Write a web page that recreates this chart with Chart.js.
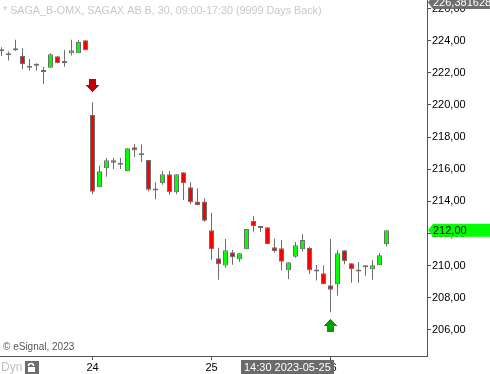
<!DOCTYPE html>
<html><head><meta charset="utf-8">
<script src="https://cdn.jsdelivr.net/npm/chart.js@4/dist/chart.umd.min.js"></script>
<style>html,body{margin:0;padding:0;background:#fff;overflow:hidden}#wrap{width:490px;height:374px;position:relative}canvas{display:block}</style>
</head><body><div id="wrap"><canvas id="c" width="490" height="374"></canvas></div>
<script>
// ---- DATA (30-minute bars, SAGA_B-OMX) ----
const opens  = [223.34,223.09,223.40,223.05,222.32,222.44,222.05,222.32,223.03,222.61,223.22,223.22,224.02,
  219.38,214.88,216.06,216.56,216.28,215.87,217.37,216.99,216.58,214.67,215.13,215.69,214.57,215.81,214.88,214.00,214.00,
  212.20,210.46,210.01,210.83,210.40,211.02,212.78,212.34,212.39,211.14,211.08,209.71,210.56,211.02,211.10,209.63,209.53,
  208.78,208.84,210.96,210.15,209.63,210.02,209.78,210.02,211.33];
const highs  = [223.59,223.32,224.06,223.53,222.86,222.59,222.36,223.22,223.03,223.42,224.06,224.04,224.02,
  220.17,216.22,216.72,216.72,216.72,217.30,217.55,217.55,216.58,215.19,215.89,215.89,215.69,215.81,215.19,214.82,214.19,
  213.30,211.12,211.66,210.98,210.77,212.28,213.09,212.39,212.39,211.68,211.60,210.21,211.47,211.97,211.16,210.04,210.02,
  211.66,210.98,210.96,210.15,210.23,210.02,210.33,210.79,212.20];
const lows   = [223.05,222.76,223.36,222.22,222.13,222.13,221.31,222.32,222.59,222.38,223.07,223.22,223.40,
  214.44,214.88,215.54,216.02,216.02,215.87,216.74,216.43,214.63,214.13,215.04,214.40,214.44,214.09,213.82,213.76,212.74,
  210.37,209.13,209.88,210.06,210.25,211.02,212.11,212.11,211.35,210.81,209.71,209.17,210.50,210.89,209.46,209.07,208.84,
  207.10,208.13,210.09,208.94,208.94,209.38,209.12,210.02,211.20];
const closes = [223.34,223.22,223.40,222.53,222.32,222.44,222.05,223.15,222.59,222.61,223.40,223.92,223.40,
  214.60,215.87,216.56,216.41,216.28,217.30,217.18,216.87,214.73,214.67,215.69,214.57,215.69,215.13,213.94,213.76,212.80,
  211.02,210.09,210.96,210.52,210.77,212.28,212.45,212.34,211.35,210.89,210.25,210.21,211.27,211.60,209.71,209.63,208.84,
  208.50,210.77,210.27,209.78,209.63,209.90,210.02,210.65,212.20];
const dayLabels = ['24','25','26'];
const dayStartBar = [13,30,47];
const yTickValues = [206,208,210,212,214,216,218,220,222,224,226];
const sellSignals = [{bar:13, price:221.21}];
const buySignals  = [{bar:47, price:206.28}];
const lastPriceMarker = {price:212.20, label:'212,00'};
const topPriceMarker  = {price:226.381628, label:'226,381628'};
const crosshair = {bar:47, label:'14:30 2023-05-25'};
const titleText = '* SAGA_B-OMX, SAGAX AB B, 30, 09:00-17:30 (9999 Days Back)';
const copyrightText = '\u00A9 eSignal, 2023';

// ---- STYLE ----
const FONT = '"Liberation Sans", Arial, sans-serif';
const EDGE = '#6e6e6e';
Chart.defaults.font.family = FONT;

function arrowCanvas(color, down){
  const c = document.createElement('canvas'); c.width = 13; c.height = 13;
  const g = c.getContext('2d'); g.fillStyle = color;
  if (down){
    g.fillRect(3,0,7,6);
    for (let k=0;k<7;k++) g.fillRect(k,6+k,13-2*k,1);
  } else {
    for (let k=0;k<7;k++) g.fillRect(6-k,k,1+2*k,1);
    g.fillRect(3,7,7,6);
  }
  return c;
}

const bodyColors = opens.map((o,i)=> closes[i]>o ? '#00ff00' : (closes[i]<o ? '#ff0000' : EDGE));

const overlay = {
  id:'overlay',
  afterDraw(chart){
    const ctx = chart.ctx, xs = chart.scales.x, ys = chart.scales.y;
    ctx.save();
    ctx.textBaseline = 'middle';
    // title
    ctx.font = '10.75px ' + FONT; ctx.fillStyle = '#c8c8c8'; ctx.textAlign = 'left';
    ctx.fillText(titleText, 3, 11);
    // copyright
    ctx.font = '10px ' + FONT; ctx.fillStyle = '#555';
    ctx.fillText(copyrightText, 3, 347.5);
    // Dyn + lock
    ctx.font = '12px ' + FONT; ctx.fillStyle = '#c0c0c0';
    ctx.fillText('Dyn', 1, 367.5);
    ctx.fillStyle = '#6e6e6e'; ctx.fillRect(25,361,14,13);
    ctx.strokeStyle = '#fff'; ctx.lineWidth = 1.5;
    ctx.beginPath(); ctx.arc(31,366,2.5,Math.PI,0); ctx.stroke();
    ctx.fillStyle = '#fff'; ctx.fillRect(28,367,7,5);
    // crosshair label
    const cx = xs.getPixelForValue(crosshair.bar);
    ctx.font = '11px ' + FONT;
    const cw = ctx.measureText(crosshair.label).width + 6;
    ctx.fillStyle = '#6b6b6b'; ctx.fillRect(Math.round(cx+3-cw), 360, Math.round(cw), 14);
    ctx.fillStyle = '#fff'; ctx.fillText(crosshair.label, Math.round(cx+3-cw)+3, 367.5);
    // price markers on right axis
    const ax = chart.chartArea.right;
    function marker(p, fill, txt){
      const y = ys.getPixelForValue(p.price);
      ctx.fillStyle = fill;
      ctx.beginPath();
      ctx.moveTo(ax+1, y); ctx.lineTo(ax+6, y-6.5); ctx.lineTo(490, y-6.5); ctx.lineTo(490, y+6.5); ctx.lineTo(ax+6, y+6.5);
      ctx.closePath(); ctx.fill();
      ctx.fillStyle = txt; ctx.font = '11px ' + FONT; ctx.textAlign = 'left';
      ctx.fillText(p.label, ax+6, y+0.5);
    }
    marker(topPriceMarker, '#6e6e6e', '#fff');
    marker(lastPriceMarker, '#00ff00', '#000');
    ctx.restore();
  }
};

new Chart(document.getElementById('c'), {
  type:'bar',
  data:{
    datasets:[
      {type:'scatter', data: sellSignals.map(s=>({x:s.bar,y:s.price})), pointStyle: arrowCanvas('#c00000', true), order:0},
      {type:'scatter', data: buySignals.map(s=>({x:s.bar,y:s.price})), pointStyle: arrowCanvas('#00a000', false), order:0},
      {data: opens.map((o,i)=>({x:i, y:[o, closes[i]]})), backgroundColor: bodyColors, borderColor: EDGE, borderWidth:1,
        borderSkipped:false, barThickness:5, minBarLength:2, grouped:false, inflateAmount:0, order:1},
      {data: lows.map((l,i)=>({x:i, y:[l, highs[i]]})), backgroundColor: EDGE, borderWidth:0,
        barThickness:1, grouped:false, inflateAmount:0, order:2}
    ]
  },
  options:{
    responsive:false, animation:false, devicePixelRatio:1,
    layout:{padding:0, autoPadding:false},
    plugins:{legend:{display:false}, tooltip:{enabled:false}},
    scales:{
      x:{type:'linear', position:'bottom', min:-1.5/7, max:-1.5/7+427/7, offset:false,
        grid:{offset:false, drawOnChartArea:false, drawTicks:true, tickLength:4, color:'#555'},
        border:{display:true, color:'#555'},
        afterBuildTicks:(s)=>{ s.ticks = dayStartBar.map(v=>({value:v})); },
        ticks:{autoSkip:false, maxRotation:0, padding:1, color:'#000', font:{size:11}, callback:(v,i)=>dayLabels[i]},
        afterFit:(s)=>{ s.height = 18; s.paddingLeft = 0; s.paddingRight = 0; }
      },
      y:{type:'linear', position:'right', min:204.38, max:226.53,
        grid:{drawOnChartArea:false, drawTicks:true, tickLength:4, color:'#555'},
        border:{display:true, color:'#555'},
        afterBuildTicks:(s)=>{ s.ticks = yTickValues.map(v=>({value:v})); },
        ticks:{padding:1, color:'#000', font:{size:11}, callback:(v)=>v.toFixed(2).replace('.',',')},
        afterFit:(s)=>{ s.width = 63; s.paddingTop = 0; s.paddingBottom = 0; }
      }
    }
  },
  plugins:[overlay]
});
</script></body></html>
